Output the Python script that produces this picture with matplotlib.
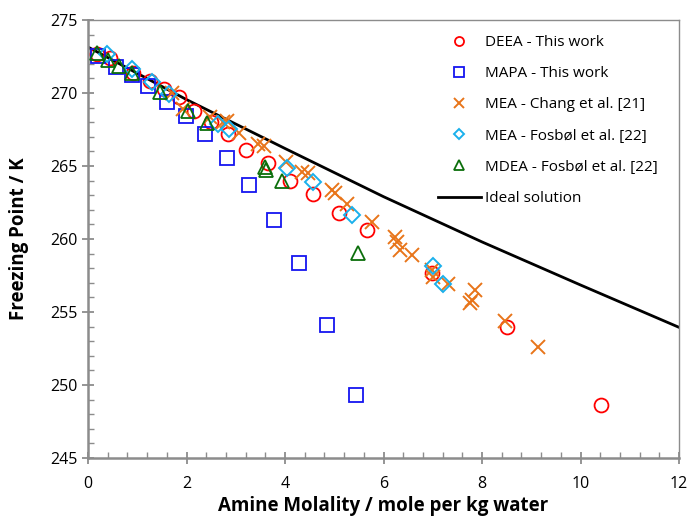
import matplotlib
matplotlib.use("Agg")
import matplotlib.pyplot as plt
from matplotlib.ticker import MultipleLocator

plt.rcParams['font.family'] = ['Open Sans', 'DejaVu Sans']

# DEEA - This work
deea_x = [0.18, 0.45, 0.91, 1.25, 1.55, 1.85, 2.15, 2.5, 2.84, 3.21, 3.65, 4.10, 4.57, 5.10, 5.67, 6.98, 8.51, 10.42]
deea_y = [272.7, 272.4, 271.4, 270.8, 270.3, 269.7, 268.8, 268.0, 267.2, 266.1, 265.2, 264.0, 263.1, 261.8, 260.6, 257.7, 254.0, 248.6]

# MAPA - This work
mapa_x = [0.2, 0.57, 0.89, 1.22, 1.60, 1.99, 2.38, 2.82, 3.27, 3.78, 4.28, 4.85, 5.44]
mapa_y = [272.5, 271.8, 271.2, 270.5, 269.4, 268.4, 267.2, 265.55, 263.7, 261.3, 258.35, 254.1, 249.3]

# MEA - Chang et al. [21]
chang_x = [1.70, 1.93, 2.48, 2.74, 2.82, 3.07, 3.45, 3.57, 4.02, 4.35, 4.47, 4.95, 5.02, 5.26, 5.77,
           6.23, 6.27, 6.34, 6.58, 6.98, 7.00, 7.31, 7.86, 7.80, 7.76, 8.47, 9.14]
chang_y = [270.0, 268.9, 268.36, 268.0, 268.1, 267.26, 266.5, 266.4, 265.27, 264.6, 264.5, 263.36, 263.15, 262.4, 261.16,
           260.14, 259.8, 259.25, 258.9, 257.9, 257.4, 256.9, 256.5, 255.8, 255.6, 254.4, 252.6]

# MEA - Fosbøl et al. [22]
fos_mea_x = [0.39, 0.89, 1.30, 1.64, 2.64, 2.86, 4.04, 4.57, 5.36, 7.00, 7.21]
fos_mea_y = [272.67, 271.64, 270.75, 269.93, 267.88, 267.53, 264.86, 263.9, 261.64, 258.15, 256.9]

# MDEA - Fosbøl et al. [22]
mdea_x = [0.18, 0.41, 0.63, 0.89, 1.46, 2.03, 2.42, 3.59, 3.62, 3.94, 5.48]
mdea_y = [272.74, 272.26, 271.85, 271.37, 270.07, 268.77, 267.95, 264.93, 264.7, 263.97, 259.04]

# Ideal solution
ideal_x = [0, 2, 4, 6, 8, 10, 12]
ideal_y = [273.15, 269.55, 266.2, 262.9, 259.8, 256.85, 253.95]

fig = plt.figure(figsize=(6.89, 5.17), dpi=100)
ax = fig.add_axes([88/689, 59/517, (679-88)/689, (458-20)/517])

ms = 10
ax.plot(deea_x, deea_y, 'o', mfc='none', mec='#FF0000', mew=1.3, ms=ms, label='DEEA - This work', zorder=3)
ax.plot(mapa_x, mapa_y, 's', mfc='none', mec='#1515F0', mew=1.3, ms=ms, label='MAPA - This work', zorder=3)
ax.plot(chang_x, chang_y, 'x', color='#E8751A', mew=1.4, ms=ms, label='MEA - Chang et al. [21]', zorder=3)
ax.plot(fos_mea_x, fos_mea_y, 'D', mfc='none', mec='#1AB0EC', mew=1.4, ms=ms-1.5, label='MEA - Fosbøl et al. [22]', zorder=3)
ax.plot(mdea_x, mdea_y, '^', mfc='none', mec='#0B6E0B', mew=1.3, ms=ms, label='MDEA - Fosbøl et al. [22]', zorder=3)
ax.plot(ideal_x, ideal_y, '-', color='black', lw=2, label='Ideal solution', zorder=2)

ax.set_xlim(0, 12)
ax.set_ylim(245, 275)
ax.xaxis.set_major_locator(MultipleLocator(2))
ax.xaxis.set_minor_locator(MultipleLocator(0.4))
ax.yaxis.set_major_locator(MultipleLocator(5))
ax.yaxis.set_minor_locator(MultipleLocator(1))

spine_col = '#8C8C8C'
for s in ['left', 'bottom']:
    ax.spines[s].set_color(spine_col)
    ax.spines[s].set_linewidth(1.8)
for s in ['top', 'right']:
    ax.spines[s].set_color(spine_col)
    ax.spines[s].set_linewidth(1.0)

ax.tick_params(which='major', direction='inout', length=8, width=1.3, color=spine_col, labelsize=11.5)
ax.tick_params(which='minor', direction='in', length=4, width=1.0, color=spine_col)
ax.tick_params(axis='both', which='both', top=False, right=False)
ax.tick_params(axis='x', pad=9)

ax.set_xlabel('Amine Molality / mole per kg water', fontsize=13.5, fontweight='bold', labelpad=3)
ax.set_ylabel('Freezing Point / K', fontsize=13.5, fontweight='bold', labelpad=15)

leg = ax.legend(loc='upper left', bbox_to_anchor=((438-88)/591, (458-35)/438), frameon=False, fontsize=11,
                markerscale=0.65, handlelength=2.8, labelspacing=1.06, handletextpad=0.25,
                borderaxespad=0, borderpad=0)

fig.savefig('out.png', dpi=100)
